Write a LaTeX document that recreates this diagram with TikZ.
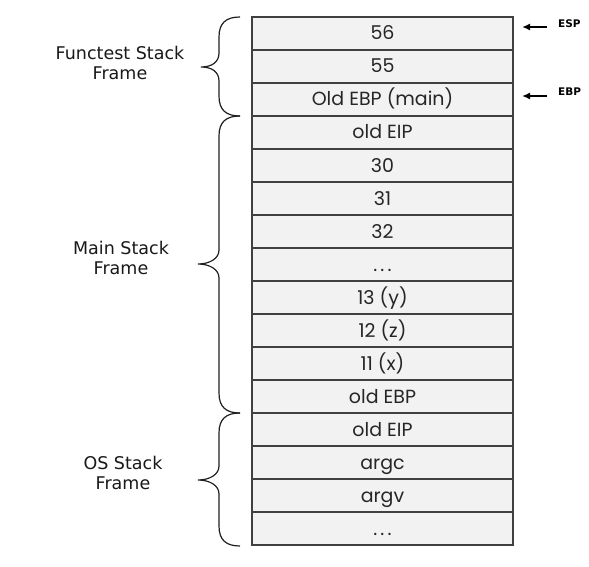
\documentclass[tikz,border=0pt]{standalone}
\usepackage{fontspec}
\setmainfont{DejaVu Sans}
\newfontfamily\cellfont{Poppins}
\newfontfamily\lblfont{DejaVu Sans}
\usetikzlibrary{arrows.meta}
\definecolor{cellfill}{HTML}{F2F2F2}
\definecolor{celldraw}{HTML}{404040}
\definecolor{bracecol}{HTML}{202020}
\newcommand\stackbrace[4]{%
  \draw[bracepath] (240,#1) .. controls (226,#1) and (219,{#1+6}) .. (219,{#1+20})
    -- (219,{#3-14}) .. controls (219,{#3-5}) and ({#4+11},#3) .. (#4,#3)
    .. controls ({#4+11},#3) and (219,{#3+5}) .. (219,{#3+14})
    -- (219,{#2-20}) .. controls (219,{#2-6}) and (226,#2) .. (240,#2);}
\tikzset{
  cell/.style={draw=celldraw, fill=cellfill, line width=1.2pt, minimum width=261pt,
    minimum height=33pt, inner sep=0pt, text height=13pt, text depth=0pt,
    font=\cellfont\fontsize{19}{21}\selectfont, text=black!85},
  framelabel/.style={align=center, font=\lblfont\fontsize{17.5}{20.5}\selectfont, text=black!90},
  bracepath/.style={draw=bracecol, line width=1.2pt},
  ptrtext/.style={font=\lblfont\bfseries\fontsize{10.5}{12}\selectfont, anchor=west, inner sep=0pt},
  ptrarrow/.style={-{Latex[length=8pt,width=7pt]}, line width=2.4pt}
}
\begin{document}
\begin{tikzpicture}[x=1pt,y=-1pt]
\useasboundingbox (0,0) rectangle (589,567);
\fill[white] (0,0) rectangle (589,567);
\foreach \t [count=\i from 0] in {56,55,Old EBP (main),old EIP,30,31,32,{.\,.\,.},13 (y),12 (z),11 (x),old EBP,old EIP,argc,argv,{.\,.\,.}}{
  \node[cell] (r\i) at (382.5,{17+33*\i+16.5}) {\t};
}
\stackbrace{17}{116}{67}{201}
\stackbrace{116}{413}{264}{198}
\stackbrace{413}{546}{480}{198}
\node[framelabel] (lf) at (120,63) {Functest Stack\\Frame};
\node[framelabel] (lm) at (121,258) {Main Stack\\Frame};
\node[framelabel] (lo) at (123,473) {OS Stack\\Frame};
\node[ptrtext] (esp) at (558,24) {ESP};
\node[ptrtext] (ebp) at (558,92) {EBP};
\coordinate (espa) at (547,27);
\coordinate (ebpa) at (547,96);
\draw[ptrarrow] (espa) -- ++(-25,0);
\draw[ptrarrow] (ebpa) -- ++(-25,0);
\end{tikzpicture}
\end{document}
